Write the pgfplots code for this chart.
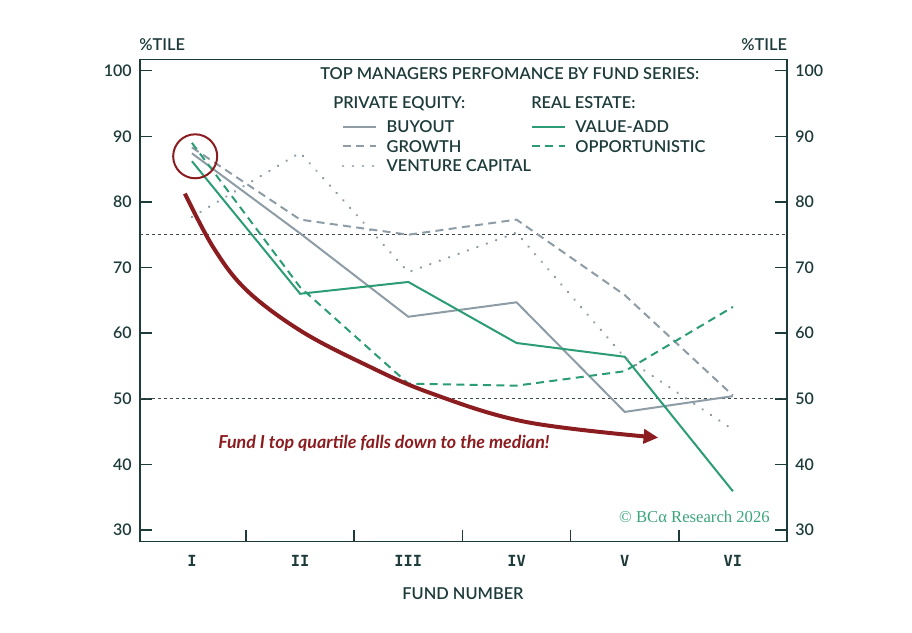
\documentclass[border=0pt]{standalone}
\usepackage{pgfplots}
\pgfplotsset{compat=1.18}
\usetikzlibrary{arrows.meta}
\usepackage{fontspec}
\setmainfont{Lato}[BoldFont={Lato Semibold},BoldItalicFont={Lato Bold Italic}]
\newfontfamily\serifc{Liberation Serif}
\newfontfamily\monof{DejaVu Sans Mono}
\definecolor{ink}{HTML}{1D3B3A}
\definecolor{pegray}{HTML}{8E9CA6}
\definecolor{regreen}{HTML}{2B9C73}
\definecolor{arrred}{HTML}{8B1C1F}
\definecolor{copyg}{HTML}{3AA57A}
\definecolor{refl}{HTML}{3E4A4A}
\newcommand\px[2]{({((#1)-140)*0.75pt},{(541.5-(#2))*0.75pt})}
\newcommand\tickfont{\bfseries\fontsize{12}{14}\selectfont}
\newcommand\legfont{\bfseries\fontsize{12.3}{14}\selectfont}
\newcommand\catfont{\monof\bfseries\fontsize{11.5}{13}\selectfont}
\begin{document}
\begin{tikzpicture}
\begin{axis}[
  scale only axis, width=485.25pt, height=361.5pt,
  xmin=0.52, xmax=6.5, ymin=28.25, ymax=101.7,
  clip=false,
  axis line style={draw=ink, line width=1.1pt},
  tick align=inside,
  major tick length=9pt,
  every tick/.style={draw=ink, line width=1.1pt},
  xtick={1.5,2.5,3.5,4.5,5.5}, xticklabels={}, xtick pos=bottom,
  ytick={30,40,...,100}, ytick pos=both, yticklabel pos=left,
  yticklabel style={font=\tickfont, text=ink, anchor=east, inner sep=0pt, xshift=-6pt},
  /pgf/number format/assume math mode=true,
  legend columns=2,
  legend cell align=left,
  legend style={at={(0.3117,0.8718)}, anchor=north west, draw=none, fill=none,
    inner sep=0pt, outer sep=0pt, row sep=6pt, font=\legfont, text=ink,
    nodes={inner sep=0pt, text height=8.6pt, text depth=0pt},
    /tikz/every odd column/.append style={column sep=6.75pt},
    /tikz/every even column/.append style={column sep=0pt}},
  legend image code/.code={\draw[#1] (0pt,0pt) -- (25pt,0pt);},
]
% reference lines (top quartile and median)
\addplot[refl, line width=0.8pt, dash pattern=on 2.25pt off 2.25pt, forget plot] coordinates {(0.52,75) (6.5,75)};
\addplot[refl, line width=0.8pt, dash pattern=on 2.25pt off 2.25pt, forget plot] coordinates {(0.52,50) (6.5,50)};
% series
\addplot[pegray, line width=1.5pt] coordinates {(1,87.4) (2,75.2) (3,62.5) (4,64.7) (5,48.0) (6,50.4)};
\addlegendentry{BUYOUT}
\addplot[regreen, line width=1.5pt] coordinates {(1,86.2) (2,66.0) (3,67.8) (4,58.5) (5,56.4) (6,35.9)};
\addlegendentry{VALUE-ADD}
\addplot[pegray, line width=1.5pt, dash pattern=on 6pt off 4pt] coordinates {(1,88.3) (2,77.3) (3,75.0) (4,77.3) (5,65.8) (6,50.5)};
\addlegendentry{GROWTH}
\addplot[regreen, line width=1.5pt, dash pattern=on 6pt off 4pt] coordinates {(1,89.0) (2,67.0) (3,52.3) (4,52.0) (5,54.2) (6,64.0)};
\addlegendentry{OPPORTUNISTIC}
\addplot[pegray, line width=2pt, line cap=round, dash pattern=on 0.01pt off 7.5pt] coordinates {(1,77.7) (2,87.5) (3,69.3) (4,75.3) (5,56.3) (6,45.3)};
\addlegendentry{VENTURE CAPITAL}
% annotation arrow and circle
\addplot[arrred, line width=3pt, smooth, tension=0.6, -{Triangle[length=11pt,width=10.5pt]}, forget plot] coordinates {
 (0.935,81.27) (1.20,73.0) (1.506,66.53) (1.998,60.43) (2.583,55.36) (3.200,50.9)
 (4.093,46.45) (5.31,44.08)};
\addplot[arrred, only marks, mark=o, mark size=16.5pt, mark options={line width=1.5pt}, forget plot] coordinates {(1.03,86.95)};
% right tick labels
\pgfplotsinvokeforeach{30,40,...,100}{\node[anchor=west, inner sep=0pt, font=\tickfont, text=ink] at (axis cs:6.5,#1) [xshift=6pt] {#1};}
% category labels
\node[anchor=base, font=\catfont, text=ink] at (axis cs:1,28.25) [yshift=-19.1pt] {I};
\node[anchor=base, font=\catfont, text=ink] at (axis cs:2,28.25) [yshift=-19.1pt] {II};
\node[anchor=base, font=\catfont, text=ink] at (axis cs:3,28.25) [yshift=-19.1pt] {III};
\node[anchor=base, font=\catfont, text=ink] at (axis cs:4,28.25) [yshift=-19.1pt] {IV};
\node[anchor=base, font=\catfont, text=ink] at (axis cs:5,28.25) [yshift=-19.1pt] {V};
\node[anchor=base, font=\catfont, text=ink] at (axis cs:6,28.25) [yshift=-19.1pt] {VI};
\end{axis}
% texts
\node[anchor=base west, inner sep=0pt, font=\legfont, text=ink] at \px{139}{50.5} {\%TILE};
\node[anchor=base east, inner sep=0pt, font=\legfont, text=ink] at \px{787.3}{50.5} {\%TILE};
\node[anchor=base west, inner sep=0pt, font=\legfont, text=ink] at \px{320}{79.5} {TOP MANAGERS PERFOMANCE BY FUND SERIES:};
\node[anchor=base west, inner sep=0pt, font=\legfont, text=ink] at \px{333}{108.5} {PRIVATE EQUITY:};
\node[anchor=base west, inner sep=0pt, font=\legfont, text=ink] at \px{531}{108.5} {REAL ESTATE:};
\node[anchor=base, inner sep=0pt, font=\legfont, text=ink] at \px{463}{599.5} {FUND NUMBER};
\node[anchor=base west, inner sep=0pt, font=\bfseries\itshape\fontsize{13.4}{15}\selectfont, text=arrred] at \px{218}{448.5} {Fund I top quartile falls down to the median!};
\node[anchor=base east, inner sep=0pt, font=\serifc\fontsize{12.5}{14}\selectfont, text=copyg] at \px{770}{522} {© BCα Research 2026};
\pgfresetboundingbox
\path[use as bounding box] \px{0}{632} rectangle \px{912}{0};
\end{tikzpicture}
\end{document}
